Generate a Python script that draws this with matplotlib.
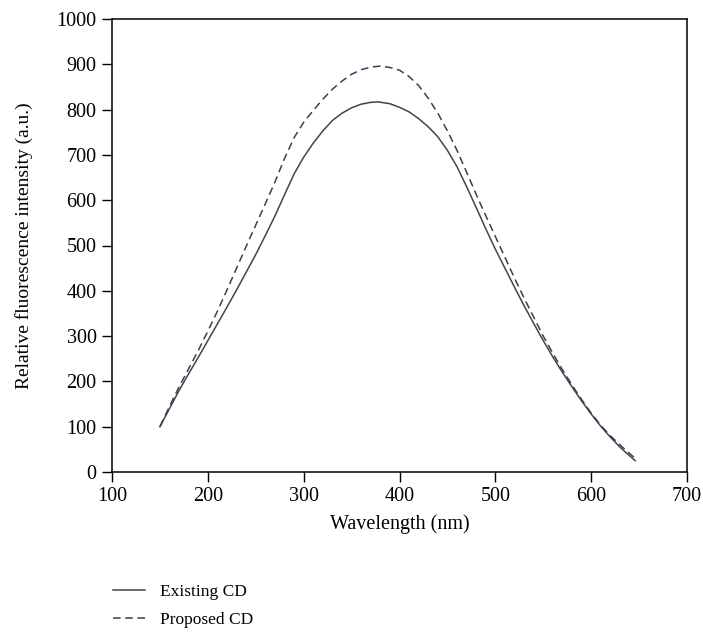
import numpy as np
import matplotlib
matplotlib.use("Agg")
import matplotlib.pyplot as plt

plt.rcParams['font.family'] = ['Liberation Serif', 'DejaVu Serif']

########################################
#   Data
########################################

existingX = [150, 160, 170, 180, 190, 200, 210, 220, 230, 240, 250, 260, 270, 280,
             290, 300, 310, 320, 330, 340, 350, 360, 370, 378, 390, 400, 410, 420,
             430, 440, 450, 460, 470, 480, 490, 500, 510, 520, 530, 540, 550, 560,
             570, 580, 590, 600, 610, 620, 630, 640, 646]
existingY = [100, 140, 180, 217, 253, 290, 327, 364, 402, 441, 480, 522, 565, 612,
             658, 695, 726, 753, 776, 792, 804, 812, 816, 817, 813, 805, 795, 780,
             762, 740, 710, 674, 630, 584, 537, 492, 450, 408, 367, 328, 290, 254,
             220, 188, 157, 128, 101, 77, 55, 36, 25]

proposedX = [150, 160, 170, 180, 190, 200, 210, 220, 230, 240, 250, 260, 270, 280,
             290, 300, 310, 320, 330, 340, 350, 360, 370, 380, 390, 400, 410, 420,
             430, 440, 450, 460, 470, 480, 490, 500, 510, 520, 530, 540, 550, 560,
             570, 580, 590, 600, 610, 620, 630, 640, 647]
proposedY = [100, 145, 188, 228, 268, 311, 355, 402, 450, 498, 545, 592, 640, 692,
             738, 772, 798, 823, 845, 863, 878, 888, 894, 896, 893, 887, 873, 853,
             825, 792, 753, 710, 662, 613, 566, 520, 474, 428, 384, 342, 300, 262,
             226, 192, 160, 130, 103, 80, 60, 41, 28]

xTicks = [100, 200, 300, 400, 500, 600, 700]
yTicks = [0, 100, 200, 300, 400, 500, 600, 700, 800, 900, 1000]

########################################
#   Plot
########################################

W, H = 703, 633
fig = plt.figure(figsize=(W / 100, H / 100), dpi=100)
ax = fig.add_axes([112 / W, 1 - 472 / H, (687 - 112) / W, (472 - 19) / H])

ax.plot(existingX, existingY, color='#444444', linewidth=1.1, label='Existing CD')
ax.plot(proposedX, proposedY, color='#3b3b5e', linewidth=1.1, linestyle=(0, (5, 3)),
        label='Proposed CD')

ax.set_xlim(100, 700)
ax.set_ylim(0, 1000)
ax.set_xticks(xTicks)
ax.set_yticks(yTicks)
ax.tick_params(direction='out', length=7, width=1, labelsize=14.5, pad=4,
               top=False, right=False)
for s in ax.spines.values():
    s.set_linewidth(1.1)

ax.set_xlabel('Wavelength (nm)', fontsize=14.5, labelpad=6)
ax.set_ylabel('Relative fluorescence intensity (a.u.)', fontsize=14, labelpad=17)

fig.legend(loc='upper left', bbox_to_anchor=(113 / W, 1 - 584 / H), frameon=False,
           fontsize=12.5, handlelength=1.84, handletextpad=0.86, labelspacing=0.67,
           borderpad=0, borderaxespad=0)

fig.savefig('out.png', dpi=100)
